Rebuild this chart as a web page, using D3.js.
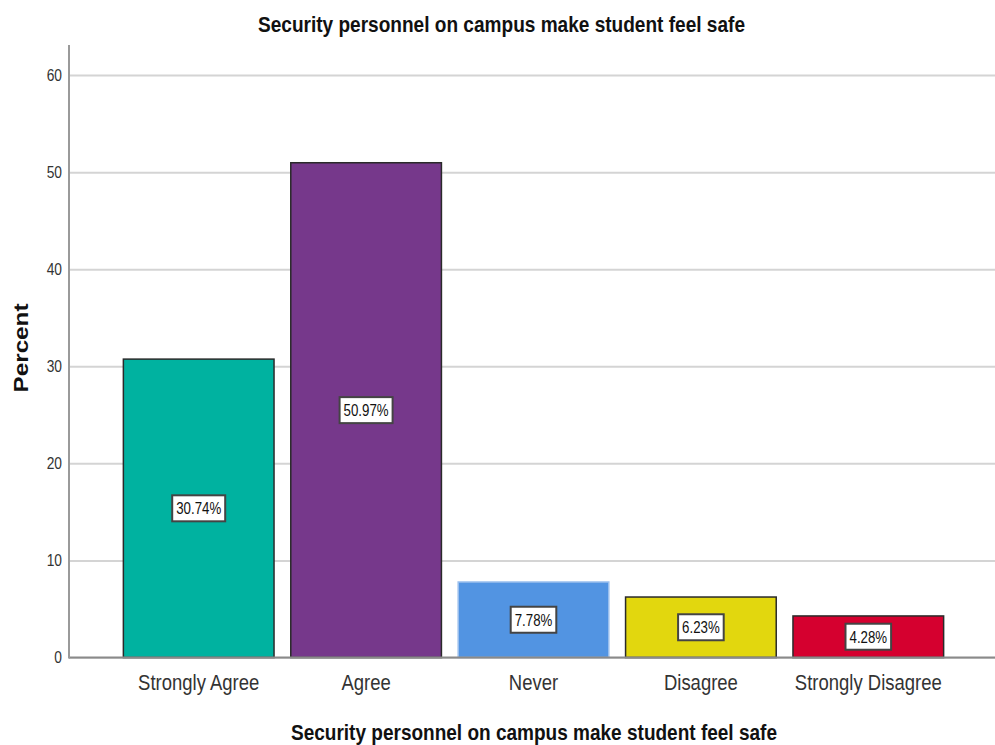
<!DOCTYPE html>
<html>
<head>
<meta charset="utf-8">
<script src="https://cdn.jsdelivr.net/npm/d3@7"></script>
<style>
  html, body { margin: 0; padding: 0; background: #fff; }
  svg { display: block; font-family: "Liberation Sans", Arial, sans-serif; }
</style>
</head>
<body>
<svg id="chart" width="995" height="745"></svg>
<script>
const categories = ["Strongly Agree", "Agree", "Never", "Disagree", "Strongly Disagree"];
const percents = [30.74, 50.97, 7.78, 6.23, 4.28];
const valueLabels = ["30.74%", "50.97%", "7.78%", "6.23%", "4.28%"];
const yTicks = [0, 10, 20, 30, 40, 50, 60];
const titleText = "Security personnel on campus make student feel safe";
const xTitleText = "Security personnel on campus make student feel safe";
const yTitleText = "Percent";

const fills = ["#00b2a0", "#76388b", "#5294e2", "#e2d70e", "#d5002f"];
const strokes = ["#2a2a2a", "#2a2a2a", "#9cc0ee", "#2a2a2a", "#2a2a2a"];

const svg = d3.select("#chart");
const plotLeft = 69, plotRight = 995, plotTop = 45, plotBottom = 657.5;

const x = d3.scaleBand().domain(categories).range([115, 952]).paddingInner(0.1).paddingOuter(0.05);
const y = d3.scaleLinear().domain([0, 63.1]).range([plotBottom, plotTop]);

function squish(sel, k) {
  sel.each(function() {
    const w = this.getComputedTextLength();
    d3.select(this).attr("textLength", w * k).attr("lengthAdjust", "spacingAndGlyphs");
  });
}
function fitWidth(sel, target) {
  sel.attr("textLength", target).attr("lengthAdjust", "spacingAndGlyphs");
}

// gridlines
const grid = svg.append("g").attr("transform", `translate(${plotLeft},0)`)
  .call(d3.axisLeft(y).tickValues(yTicks).tickSize(-(plotRight - plotLeft)).tickFormat(""));
grid.select(".domain").remove();
grid.selectAll("line").attr("stroke", "#d4d4d4").attr("stroke-width", 2);

// y axis labels
const yAxis = svg.append("g").attr("transform", `translate(${plotLeft},0)`)
  .call(d3.axisLeft(y).tickValues(yTicks).tickSize(0).tickPadding(7));
yAxis.select(".domain").remove();
yAxis.selectAll("text").attr("font-size", 16).attr("fill", "#333")
  .attr("font-family", "'Liberation Sans', Arial, sans-serif");
squish(yAxis.selectAll("text"), 0.86);

// bars
svg.append("g").selectAll("rect").data(categories).join("rect")
  .attr("x", d => x(d))
  .attr("y", (d, i) => y(percents[i]))
  .attr("width", x.bandwidth())
  .attr("height", (d, i) => y(0) - y(percents[i]))
  .attr("fill", (d, i) => fills[i])
  .attr("stroke", (d, i) => strokes[i])
  .attr("stroke-width", 1.5);

// axis lines
svg.append("line").attr("x1", plotLeft).attr("x2", plotRight).attr("y1", plotBottom).attr("y2", plotBottom)
  .attr("stroke", "#8a8a8a").attr("stroke-width", 2);
svg.append("line").attr("x1", plotLeft).attr("x2", plotLeft).attr("y1", plotTop).attr("y2", plotBottom + 1)
  .attr("stroke", "#9a9a9a").attr("stroke-width", 2);

// value labels
const lab = svg.append("g").selectAll("g").data(categories).join("g")
  .attr("transform", (d, i) => `translate(${x(d) + x.bandwidth() / 2},${y(percents[i] / 2)})`);
lab.append("text")
  .attr("text-anchor", "middle").attr("dy", "0.36em")
  .attr("font-size", 17).attr("fill", "#111")
  .text((d, i) => valueLabels[i]);
lab.selectAll("text").each(function() {
  const w = this.getComputedTextLength() * 0.78;
  d3.select(this).attr("textLength", w).attr("lengthAdjust", "spacingAndGlyphs");
  d3.select(this.parentNode).insert("rect", "text")
    .attr("x", -w / 2 - 4).attr("y", -13).attr("width", w + 8).attr("height", 26)
    .attr("fill", "#fff").attr("stroke", "#444").attr("stroke-width", 2);
});

// x axis labels
const xAxis = svg.append("g").attr("transform", `translate(0,${plotBottom})`)
  .call(d3.axisBottom(x).tickSize(0).tickPadding(0));
xAxis.select(".domain").remove();
xAxis.selectAll("text").attr("dy", null).attr("y", 32.5)
  .attr("font-size", 22).attr("fill", "#333")
  .attr("font-family", "'Liberation Sans', Arial, sans-serif");
squish(xAxis.selectAll("text"), 0.84);

// titles
svg.append("text").attr("x", 501.5).attr("y", 32).attr("text-anchor", "middle")
  .attr("font-size", 22).attr("font-weight", "bold").attr("fill", "#111")
  .text(titleText).call(fitWidth, 487);
svg.append("text").attr("x", 534).attr("y", 740).attr("text-anchor", "middle")
  .attr("font-size", 22).attr("font-weight", "bold").attr("fill", "#111")
  .text(xTitleText).call(fitWidth, 486);
svg.append("text").attr("transform", "translate(28,348) rotate(-90)").attr("text-anchor", "middle")
  .attr("font-size", 20).attr("font-weight", "bold").attr("fill", "#111")
  .text(yTitleText).call(fitWidth, 89);
</script>
</body>
</html>
